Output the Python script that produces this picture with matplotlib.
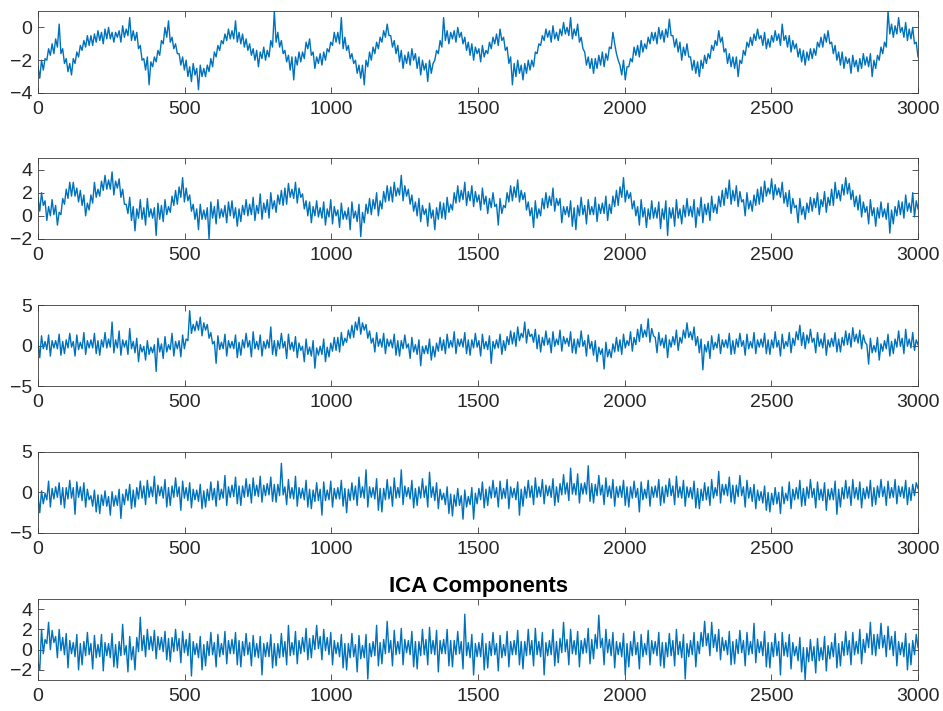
import numpy as np
import matplotlib
matplotlib.use("Agg")
import matplotlib.pyplot as plt

# Five independent components, 3000 samples each, kept here at every 6th sample.
n_samples = 3000
x_ticks = [0, 500, 1000, 1500, 2000, 2500, 3000]
title = "ICA Components"

s1 = [
    -2.4, -3.1, -2.0, -2.6, -1.9, -2.0, -1.3, -1.7, -1.0, -1.6,
    -0.7, -1.2, 0.2, -1.6, -1.3, -2.2, -1.9, -2.7, -2.2, -2.9,
    -1.9, -2.2, -1.5, -1.8, -1.1, -1.4, -0.8, -1.2, -0.5, -1.1,
    -0.5, -1.1, -0.4, -0.9, -0.2, -0.8, -0.3, -1.0, -0.1, -0.7,
    0.0, -0.7, -0.3, -0.9, -0.3, -0.6, -0.2, -0.9, 0.1, -0.6,
    -0.1, -0.5, 0.6, -0.8, -0.2, -0.8, -0.3, -1.3, -1.1, -2.0,
    -1.9, -2.6, -1.8, -3.5, -2.1, -2.4, -1.8, -2.1, -1.4, -1.7,
    -0.8, -1.0, 0.0, -0.6, 0.4, -0.9, -0.6, -1.3, -1.0, -1.6,
    -1.6, -2.3, -1.8, -2.6, -2.0, -3.0, -2.4, -3.3, -2.2, -2.9,
    -2.5, -3.8, -2.3, -3.0, -2.5, -3.0, -2.3, -2.7, -1.9, -2.4,
    -1.5, -1.8, -1.1, -1.4, -0.8, -1.0, -0.4, -0.8, -0.1, -0.7,
    -0.2, -0.7, 0.4, -0.9, -0.3, -1.0, -0.4, -1.2, -0.7, -1.4,
    -1.0, -1.7, -1.3, -2.0, -1.4, -2.4, -1.5, -1.9, -1.2, -2.0,
    -1.4, -1.8, -0.8, -1.2, 1.0, -0.9, -0.3, -1.2, -0.8, -1.6,
    -1.4, -2.1, -1.7, -2.6, -1.8, -3.2, -1.8, -2.3, -1.5, -2.1,
    -1.5, -1.9, -0.9, -1.3, -0.7, -1.7, -1.5, -2.5, -1.8, -2.2,
    -1.6, -2.3, -1.5, -2.0, -1.3, -1.5, -0.9, -1.1, -0.3, -0.9,
    -0.3, -1.0, 0.6, -1.3, -0.6, -1.4, -1.1, -1.9, -1.6, -2.2,
    -2.0, -2.8, -2.3, -3.1, -2.3, -3.5, -2.0, -2.4, -1.5, -2.0,
    -1.2, -1.6, -0.9, -1.3, -0.6, -0.9, -0.2, -0.6, 0.2, -0.5,
    -0.5, -1.2, -0.8, -1.6, -1.1, -2.1, -1.4, -2.5, -1.7, -2.2,
    -1.5, -2.3, -1.3, -2.0, -1.6, -2.5, -1.8, -2.9, -2.0, -2.6,
    -2.2, -3.3, -2.0, -2.8, -2.2, -2.0, -1.4, -1.6, -0.8, -1.2,
    0.6, -0.8, -0.2, -1.0, -0.3, -0.7, -0.2, -0.9, 0.0, -0.6,
    -0.3, -1.0, -0.6, -1.4, -0.9, -1.7, -1.0, -2.0, -1.2, -1.6,
    -1.3, -2.1, -1.1, -1.8, -1.4, -1.6, -0.9, -1.3, -0.6, -1.0,
    -0.4, -1.1, -0.1, -0.8, -0.6, -1.4, -1.2, -2.2, -1.8, -3.5,
    -2.2, -3.0, -2.0, -2.8, -2.3, -3.2, -2.2, -2.8, -2.0, -2.6,
    -2.0, -2.4, -1.5, -1.6, -1.0, -1.1, -0.5, -0.8, -0.1, -0.6,
    -0.2, -0.9, 0.1, -0.7, -0.3, -0.8, -0.1, -0.5, 0.3, -0.4,
    0.0, -0.5, 0.6, -0.7, -0.1, -0.5, 0.2, -0.9, -0.6, -1.3,
    -1.5, -2.3, -1.8, -2.5, -1.9, -2.8, -1.9, -2.5, -1.7, -2.3,
    -1.5, -2.4, -1.6, -2.0, -1.2, -1.3, -0.3, -1.0, -1.6, -2.0,
    -2.3, -2.9, -2.0, -3.2, -2.4, -2.4, -1.9, -2.1, -1.2, -1.7,
    -1.1, -1.8, -0.8, -1.5, -1.0, -1.3, -0.6, -1.0, -0.3, -0.8,
    -0.3, -1.0, 0.0, -0.7, -0.2, -0.9, -0.1, -0.6, 0.5, -0.5,
    -0.5, -1.2, -0.7, -1.5, -0.9, -2.0, -1.2, -1.7, -1.0, -1.8,
    -1.8, -2.6, -2.0, -2.8, -2.1, -3.0, -2.0, -2.5, -1.7, -2.2,
    -1.6, -1.9, -1.1, -1.4, -0.8, -1.1, -0.2, -0.9, -0.6, -1.5,
    -1.3, -2.2, -1.6, -2.4, -1.8, -2.5, -1.8, -3.0, -2.0, -2.2,
    -1.4, -1.7, -0.9, -1.2, -0.6, -1.1, -0.4, -0.8, -0.1, -0.7,
    -0.5, -1.1, -0.3, -1.3, -0.7, -1.2, -0.5, -0.9, -0.2, -0.8,
    -0.4, -1.1, 0.2, -0.8, -0.5, -1.2, -0.5, -1.5, -0.8, -1.3,
    -1.0, -1.8, -1.3, -2.1, -1.4, -2.3, -1.5, -2.0, -1.3, -1.9,
    -1.3, -1.7, -0.9, -1.2, -0.6, -1.2, -0.4, -0.9, -0.2, -1.0,
    -0.9, -1.6, -1.1, -2.0, -1.5, -2.3, -1.5, -2.5, -1.8, -2.2,
    -1.9, -2.8, -1.7, -2.4, -2.0, -2.7, -1.9, -2.5, -1.6, -2.3,
    -1.8, -2.4, -1.6, -3.0, -2.0, -2.5, -1.7, -2.0, -1.2, -1.6,
    -0.9, -1.2, 1.0, -0.4, 0.2, -0.6, 0.1, -0.4, 0.6, -0.3,
    0.0, -0.6, 0.3, -0.8, -0.1, -0.7, 0.0, -1.0, -0.9, -1.8,
]

s2 = [
    1.6, 0.4, 2.0, 0.9, 1.3, -0.4, 0.8, 0.0, 1.4, 0.1,
    0.9, -0.8, 0.3, 0.1, 1.5, 1.0, 2.3, 1.5, 2.9, 1.7,
    2.9, 1.7, 2.4, 1.2, 2.2, 0.9, 1.8, 0.0, 1.1, 0.5,
    1.8, 1.1, 2.9, 1.6, 2.3, 1.7, 3.0, 2.2, 3.5, 2.3,
    3.1, 2.3, 3.8, 1.8, 3.0, 2.4, 3.2, 1.6, 2.3, 1.0,
    1.0, 0.2, 1.6, -0.4, 0.8, -1.3, 0.6, -0.2, 1.4, -0.3,
    0.7, -0.8, 1.5, -0.1, 0.6, -0.2, 0.7, -1.7, 1.1, -0.3,
    0.9, -0.5, 1.4, 0.1, 0.8, 0.3, 1.7, 0.9, 2.2, 1.0,
    2.5, 1.6, 3.3, 1.2, 2.4, 1.3, 1.8, 0.4, 1.0, -0.3,
    0.6, -1.2, 1.0, -0.3, 0.5, -0.3, 0.7, -2.0, 1.2, -0.2,
    0.8, -0.7, 1.4, -0.2, 0.6, -0.1, 0.9, -0.6, 1.2, 0.0,
    1.3, -0.2, 0.7, -0.9, 0.6, -0.5, 0.9, 0.1, 1.4, 0.0,
    1.0, 0.1, 1.6, -0.4, 0.9, 0.2, 1.9, -0.3, 1.1, 0.3,
    1.4, -0.2, 2.0, 0.6, 1.3, 0.3, 1.8, 1.0, 2.2, 0.9,
    2.4, 1.0, 2.8, 1.6, 2.3, 1.5, 2.9, 1.1, 2.4, 1.6,
    1.9, 0.6, 1.3, 0.0, 1.2, -0.6, 0.8, 0.0, 1.3, -0.1,
    0.7, -0.2, 1.2, -0.8, 0.6, -0.1, 1.4, -0.7, 0.8, 0.0,
    0.5, -1.0, 1.1, -0.3, 0.4, -0.3, 0.7, -1.2, 1.2, -0.2,
    0.4, -0.5, 1.0, -1.8, 0.3, -0.6, 1.0, 0.2, 1.5, 0.1,
    1.4, 0.6, 2.0, 0.0, 1.3, 0.6, 2.1, 1.2, 2.6, 1.3,
    2.5, 1.2, 2.9, 1.7, 2.4, 1.8, 3.5, 1.3, 2.6, 1.7,
    2.3, 1.0, 1.8, 0.4, 1.2, 0.0, 1.5, -0.5, 0.9, 0.1,
    0.6, -0.9, 1.1, -0.2, 0.5, -1.2, 0.7, -0.3, 1.2, -0.2,
    1.1, -0.3, 1.6, 0.3, 1.0, 0.5, 2.0, 1.1, 2.6, 1.2,
    2.2, 1.4, 2.9, 0.9, 2.1, 1.3, 2.6, 0.8, 2.1, 1.2,
    1.8, 0.5, 2.4, 1.0, 1.7, 0.2, 1.5, 0.7, 2.0, 0.8,
    1.0, -0.8, 1.5, 0.2, 0.9, 0.7, 2.0, 1.2, 2.6, 1.3,
    2.5, 1.6, 3.1, 1.2, 2.2, 1.4, 2.0, 0.5, 1.2, 0.0,
    0.7, -1.0, 1.3, -0.2, 0.6, 0.0, 1.5, 0.6, 2.0, 0.7,
    1.7, 0.9, 2.4, 0.4, 1.5, 0.9, 1.5, -0.6, 0.8, 0.1,
    0.8, -0.1, 1.3, -0.9, 0.7, -1.2, 0.9, 0.0, 1.6, 0.1,
    0.9, -0.7, 1.4, 0.1, 0.8, 0.1, 1.6, -0.5, 1.0, 0.2,
    1.1, 0.2, 1.7, -0.4, 1.0, 0.2, 1.7, 0.8, 2.2, 0.9,
    2.5, 1.6, 3.3, 1.2, 2.2, 1.5, 2.0, 0.6, 1.3, 0.0,
    0.8, -0.8, 1.4, -0.1, 0.7, -1.0, 0.6, -0.3, 1.3, -0.2,
    0.7, -0.2, 1.2, -1.1, 0.6, -0.3, 1.3, -1.7, 0.7, -0.2,
    0.7, -0.9, 1.4, -0.2, 0.6, -0.7, 0.9, -0.1, 1.5, 0.0,
    0.8, -0.1, 1.4, -1.0, 0.7, 0.0, 1.6, -0.6, 1.0, 0.1,
    1.1, -0.4, 1.7, 0.3, 1.0, 0.2, 1.7, 0.8, 2.2, 0.9,
    2.4, 1.5, 3.1, 1.0, 2.2, 1.3, 2.6, 0.8, 2.1, 1.2,
    1.4, 0.0, 2.0, 0.6, 1.3, 0.4, 1.8, 0.9, 2.3, 1.0,
    2.5, 1.2, 3.0, 1.7, 2.4, 1.9, 3.2, 1.4, 2.7, 1.8,
    2.4, 1.6, 2.9, 1.1, 2.0, 0.8, 2.2, 0.2, 1.5, 0.7,
    0.9, -0.6, 1.5, 0.1, 0.8, -0.3, 1.1, 0.3, 1.6, 0.4,
    1.5, 0.7, 2.0, 0.1, 1.4, 0.8, 2.1, 0.3, 1.6, 0.9,
    2.3, 0.9, 2.9, 1.5, 2.2, 1.3, 2.7, 1.8, 3.3, 1.9,
    2.8, 1.4, 2.2, 0.8, 1.7, 0.5, 1.8, -0.1, 1.2, 0.3,
    0.8, -0.7, 1.4, 0.0, 0.7, -0.9, 0.7, -0.2, 1.2, -0.1,
    0.6, -0.3, 1.1, -1.5, 0.5, -0.7, 0.8, 0.0, 1.3, 0.1,
    1.2, -0.2, 1.8, 0.4, 1.1, 0.3, 2.0, -0.1, 1.3, 0.6,
]

s3 = [
    0.4, -1.5, 1.2, -0.4, 0.5, -0.5, 1.3, -1.3, 0.6, -0.3,
    0.6, -0.4, 1.4, -1.2, 0.5, -1.0, 0.7, -0.3, 1.5, -0.2,
    0.5, -1.3, 1.3, -0.5, 0.4, -0.4, 1.6, -1.1, 0.6, -0.3,
    0.7, -0.3, 1.5, -1.0, 0.6, -1.2, 0.7, -0.2, 1.6, -0.3,
    0.8, -0.2, 2.9, -0.9, 0.7, -0.3, 1.8, -1.2, 0.7, -0.2,
    0.6, -1.1, 2.1, -0.4, 0.5, -0.9, 0.9, -2.0, 0.1, -0.8,
    -0.1, -1.8, 0.6, -1.1, -0.2, -0.9, 0.1, -3.2, 0.9, -0.8,
    0.2, -1.6, 1.1, -0.8, 0.1, -0.5, 1.5, -1.3, 0.5, -0.4,
    0.6, -1.4, 1.3, -0.4, 0.8, 0.6, 4.3, 1.5, 2.6, 1.8,
    3.0, 1.9, 3.5, 1.2, 2.8, 1.9, 2.6, 0.9, 1.6, 0.2,
    0.5, -2.2, 1.2, -0.5, 0.4, -0.4, 1.4, -1.3, 0.6, -0.3,
    0.5, -0.4, 1.3, -1.5, 0.4, -1.2, 0.7, -0.3, 1.5, -0.2,
    0.6, -1.4, 1.7, -0.4, 0.5, -0.5, 1.3, -1.3, 0.5, -0.4,
    0.7, -0.3, 2.3, -1.1, 0.6, -1.3, 0.6, -0.4, 1.5, -0.3,
    0.5, -1.6, 1.4, -0.5, 0.4, -0.7, 1.1, -1.5, 0.3, -0.6,
    -0.1, -2.0, 0.8, -1.1, -0.2, -1.3, 0.6, -2.8, -0.3, -1.2,
    -0.1, -1.1, 0.8, -2.0, -0.2, -1.4, 0.3, -0.7, 1.0, -0.6,
    1.0, -0.8, 1.6, 0.0, 0.9, 0.4, 1.9, 0.9, 2.5, 1.0,
    2.9, 1.9, 3.5, 1.4, 2.8, 1.9, 2.6, 0.9, 1.8, 0.3,
    0.9, -0.8, 1.6, -0.1, 0.8, -0.2, 1.5, -1.0, 0.8, -0.1,
    0.7, -0.3, 1.4, -1.2, 0.6, -1.3, 0.6, -0.4, 1.3, -0.3,
    0.2, -1.6, 1.0, -0.8, 0.1, -1.1, 0.7, -2.5, -0.1, -1.0,
    0.0, -1.0, 0.8, -1.8, -0.1, -1.4, 0.3, -0.7, 1.0, -0.6,
    0.7, -1.0, 1.4, -0.3, 0.6, -0.2, 1.7, -1.0, 0.8, -0.1,
    0.8, -0.2, 1.6, -1.0, 0.7, -1.2, 0.7, -0.3, 1.5, -0.2,
    0.6, -1.3, 1.4, -0.4, 0.5, -0.5, 1.2, -2.2, 0.5, -0.4,
    0.7, -0.3, 1.4, -1.1, 0.6, -0.6, 1.1, 0.1, 1.8, 0.2,
    1.6, -0.1, 2.3, 0.6, 1.5, 1.0, 2.9, 0.3, 2.0, 1.1,
    1.4, 0.4, 2.0, -0.4, 1.3, -0.8, 1.0, 0.0, 1.8, 0.1,
    0.9, -0.9, 1.7, -0.1, 0.8, 0.1, 1.9, -0.7, 1.1, 0.2,
    0.9, -0.1, 1.7, -0.9, 0.8, -1.0, 0.8, -0.2, 1.8, -0.1,
    0.6, -1.3, 1.3, -0.4, 0.5, -1.2, 0.6, -2.0, -0.2, -1.1,
    -0.4, -2.9, 0.4, -1.4, -0.5, -1.5, 0.2, -0.8, 1.0, -0.7,
    0.7, -1.1, 1.4, -0.3, 0.6, 0.0, 1.7, -0.7, 1.0, 0.1,
    2.0, 0.5, 2.6, 1.0, 1.9, 1.1, 3.3, 0.4, 2.1, 1.2,
    1.0, -0.9, 1.6, 0.0, 0.9, -0.3, 1.3, -1.5, 0.7, -0.2,
    1.1, 0.1, 1.9, -0.6, 1.0, 0.3, 1.9, 0.9, 2.8, 1.0,
    1.7, 0.7, 2.3, 0.0, 1.1, -0.9, 0.8, -3.0, 0.1, -0.8,
    0.5, -1.6, 1.2, -0.5, 0.4, -0.3, 1.4, -1.0, 0.7, -0.2,
    0.7, -0.3, 1.5, -1.1, 0.6, -1.0, 0.8, -0.2, 1.5, -0.1,
    0.6, -1.2, 1.4, -0.4, 0.5, -0.3, 1.6, -1.0, 0.7, -0.2,
    0.8, -0.2, 1.5, -1.0, 0.7, -1.1, 0.7, -0.3, 1.7, -0.2,
    0.6, -1.3, 1.4, -0.4, 0.5, -0.1, 1.6, -0.9, 0.9, 0.0,
    1.7, 0.7, 2.5, 0.0, 1.6, -0.4, 1.3, 0.3, 2.0, 0.4,
    0.9, -0.9, 1.6, -0.1, 0.8, -0.3, 1.5, -1.2, 0.7, -0.2,
    0.9, -0.1, 1.6, -0.8, 0.8, -0.8, 1.0, 0.0, 1.8, 0.1,
    1.5, -0.2, 2.2, 0.5, 1.4, 0.3, 1.9, -0.4, 1.3, 0.4,
    0.1, -2.3, 0.9, -0.9, 0.0, -0.8, 1.0, -1.8, 0.2, -0.7,
    0.6, -0.4, 1.4, -1.3, 0.5, -1.0, 0.8, -0.2, 1.8, -0.1,
    0.9, -1.0, 2.0, -0.1, 0.8, -0.3, 1.6, -0.6, 0.7, 0.1,
]

s4 = [
    -0.3, -2.5, 0.2, -1.4, -0.1, -0.9, 1.4, -1.8, 0.5, -0.8,
    0.7, -0.6, 1.2, -1.5, 0.6, -1.9, 0.6, -0.8, 1.5, -0.7,
    0.6, -2.7, 1.3, -0.6, 0.7, -1.0, 1.2, -1.8, 0.4, -0.9,
    -0.4, -1.7, 0.3, -2.4, -0.3, -2.6, -0.3, -1.6, 0.2, -1.7,
    -0.5, -2.8, 0.1, -1.7, -0.4, -1.6, 0.4, -3.2, -0.2, -1.5,
    0.4, -1.0, 1.0, -2.0, 0.3, -1.8, 0.6, -0.8, 1.4, -0.7,
    0.8, -1.5, 1.5, -0.6, 0.7, -0.5, 2.0, -1.4, 0.9, -0.4,
    0.7, -0.7, 1.6, -1.8, 0.6, -1.6, 0.8, -0.6, 1.8, -0.5,
    0.7, -2.2, 1.4, -0.7, 0.6, -1.0, 1.2, -1.9, 0.4, -0.9,
    0.3, -1.1, 1.0, -2.0, 0.2, -1.8, 0.4, -1.0, 1.3, -0.9,
    0.5, -1.7, 1.4, -0.9, 0.4, -0.7, 2.1, -1.6, 0.7, -0.6,
    0.9, -0.5, 1.9, -1.4, 0.8, -1.6, 0.8, -0.6, 1.7, -0.5,
    1.0, -1.3, 1.8, -0.4, 0.9, -0.5, 2.0, -1.2, 0.9, -0.4,
    1.1, -0.3, 1.9, -1.1, 1.0, -1.2, 1.0, -0.4, 3.6, -0.3,
    0.7, -1.5, 1.6, -0.7, 0.6, -0.8, 2.0, -1.7, 0.6, -0.7,
    0.5, -0.9, 1.5, -1.8, 0.4, -2.0, 0.3, -1.1, 1.2, -1.0,
    0.4, -2.8, 1.3, -1.0, 0.3, -0.9, 1.4, -1.8, 0.5, -0.8,
    0.6, -0.8, 1.5, -1.7, 0.5, -2.5, 0.4, -1.0, 1.2, -0.9,
    0.8, -1.6, 1.9, -0.6, 0.7, -0.7, 2.8, -1.8, 0.7, -0.6,
    0.6, -0.8, 1.7, -2.2, 0.5, -2.4, 0.5, -0.9, 1.6, -0.8,
    0.7, -1.7, 1.8, -0.7, 0.6, -0.6, 2.8, -1.5, 0.8, -0.5,
    0.6, -0.8, 1.5, -1.9, 0.5, -1.6, 0.7, -0.7, 1.7, -0.6,
    0.8, -1.8, 2.5, -0.6, 0.7, -1.0, 1.2, -2.0, 0.4, -0.9,
    -0.1, -1.5, 0.7, -2.6, -0.2, -2.9, -0.3, -1.7, 0.5, -1.6,
    -0.4, -3.3, 0.3, -1.8, -0.5, -1.5, 0.6, -3.3, -0.1, -1.4,
    0.5, -0.9, 1.3, -1.9, 0.4, -1.6, 0.7, -0.7, 1.5, -0.6,
    0.6, -1.8, 1.4, -0.8, 0.5, -0.7, 1.6, -2.0, 0.7, -0.6,
    0.5, -0.9, 1.3, -2.8, 0.4, -1.7, 0.7, -0.7, 1.5, -0.6,
    0.8, -1.5, 1.8, -0.6, 0.7, -0.5, 1.6, -1.4, 0.9, -0.4,
    0.8, -0.6, 1.7, -1.6, 0.7, -1.2, 1.1, -0.3, 2.2, -0.2,
    1.2, -1.0, 3.0, -0.2, 1.1, -0.3, 2.3, -1.3, 1.1, -0.2,
    1.2, -0.2, 3.3, -1.1, 1.1, -1.3, 1.0, -0.4, 2.1, -0.3,
    0.9, -1.5, 1.8, -0.5, 0.8, -0.7, 1.6, -1.7, 0.7, -0.6,
    0.8, -0.6, 1.5, -1.6, 0.7, -1.8, 0.7, -0.7, 1.4, -0.6,
    0.5, -2.4, 1.3, -0.9, 0.4, -0.7, 1.5, -1.7, 0.7, -0.6,
    0.8, -0.6, 1.6, -1.6, 0.7, -1.3, 0.9, -0.5, 1.7, -0.4,
    0.8, -1.5, 2.0, -0.6, 0.7, -0.7, 1.5, -1.7, 0.7, -0.6,
    0.6, -0.8, 1.4, -1.9, 0.5, -2.0, 0.4, -1.0, 1.2, -0.9,
    0.7, -1.6, 1.6, -0.7, 0.6, -0.4, 2.6, -1.3, 1.0, -0.3,
    1.0, -0.4, 1.9, -1.2, 0.9, -1.4, 0.9, -0.5, 2.1, -0.4,
    0.7, -1.8, 1.5, -0.7, 0.6, -1.1, 1.0, -2.0, 0.3, -1.0,
    0.1, -1.3, 0.8, -2.2, 0.0, -2.4, -0.1, -1.5, 0.6, -1.4,
    0.0, -2.6, 0.7, -1.4, -0.1, -1.0, 1.3, -2.0, 0.4, -0.9,
    0.6, -0.8, 1.5, -1.7, 0.5, -1.6, 0.7, -0.7, 1.6, -0.6,
    0.5, -1.9, 1.3, -0.9, 0.4, -1.0, 1.2, -2.2, 0.4, -0.9,
    0.5, -0.9, 1.4, -2.7, 0.4, -1.8, 0.6, -0.8, 1.5, -0.7,
    0.7, -1.6, 1.6, -0.7, 0.6, -0.9, 1.3, -1.9, 0.5, -0.8,
    0.7, -0.7, 1.5, -1.7, 0.6, -1.5, 0.8, -0.6, 1.6, -0.5,
    0.7, -1.6, 1.4, -0.7, 0.6, -0.6, 1.6, -1.4, 0.8, -0.5,
    0.7, -0.7, 1.5, -1.5, 0.6, -1.0, 1.0, -0.4, 1.2, 0.5,
]

s5 = [
    -1.3, -2.0, 2.0, -0.4, 1.0, 0.6, 2.7, 0.0, 1.9, 0.7,
    1.3, -0.8, 2.0, -0.1, 1.2, -0.5, 1.6, -1.8, 0.9, -0.4,
    0.7, -0.7, 1.5, -2.0, 0.6, -1.5, 0.8, -0.6, 1.7, -0.5,
    0.6, -1.9, 1.4, -0.8, 0.5, -0.7, 1.5, -2.1, 0.7, -0.6,
    0.6, -0.8, 1.6, -1.7, 0.5, -1.8, 0.8, -0.6, 2.5, -0.5,
    0.4, -2.2, 1.3, -1.0, 0.3, -2.0, 1.2, -0.2, 3.2, -0.1,
    1.4, -0.7, 2.0, 0.0, 1.3, -0.1, 1.9, -0.9, 1.3, 0.0,
    1.2, -0.2, 1.8, -1.0, 1.1, -1.2, 1.2, -0.2, 2.0, -0.1,
    1.1, -1.3, 1.8, -0.3, 1.0, -0.6, 1.6, -2.6, 0.8, -0.5,
    0.6, -0.8, 1.3, -2.0, 0.5, -1.6, 0.8, -0.6, 1.7, -0.5,
    0.7, -1.7, 1.5, -0.7, 0.6, -0.5, 1.8, -1.4, 0.9, -0.4,
    1.0, -0.4, 1.7, -1.5, 0.9, -1.7, 0.8, -0.6, 1.6, -0.5,
    0.7, -1.6, 1.4, -0.7, 0.6, -0.8, 1.3, -2.5, 0.6, -0.7,
    0.7, -0.7, 1.5, -1.8, 0.6, -1.6, 0.6, -0.8, 1.6, -0.7,
    0.8, -1.5, 2.4, -0.6, 0.7, -0.5, 1.8, -1.4, 0.9, -0.4,
    1.2, -0.2, 2.1, -1.0, 1.1, -0.8, 1.4, 0.0, 2.4, 0.1,
    1.3, -1.0, 2.0, -0.1, 1.2, -0.5, 1.7, -1.5, 0.9, -0.4,
    0.7, -0.7, 1.5, -1.8, 0.6, -2.0, 0.6, -0.8, 1.6, -0.7,
    0.5, -2.2, 1.4, -0.9, 0.4, -0.8, 1.5, -2.9, 0.6, -0.7,
    0.8, -0.6, 2.4, -1.6, 0.7, -1.4, 1.0, -0.4, 2.8, -0.3,
    0.9, -1.6, 1.9, -0.5, 0.8, -0.4, 2.1, -1.5, 1.0, -0.3,
    0.9, -0.5, 1.8, -1.7, 0.8, -1.9, 0.8, -0.6, 2.0, -0.5,
    1.0, -1.5, 2.2, -0.4, 0.9, -0.5, 1.9, -2.2, 0.9, -0.4,
    1.0, -0.4, 2.0, -1.6, 0.9, -1.7, 0.9, -0.5, 1.8, -0.4,
    0.8, -1.9, 3.5, -0.6, 0.7, -0.8, 1.5, -2.5, 0.6, -0.7,
    0.7, -0.7, 1.6, -2.0, 0.6, -1.8, 0.8, -0.6, 1.7, -0.5,
    0.6, -2.1, 1.4, -0.8, 0.5, -0.6, 1.8, -1.7, 0.8, -0.5,
    0.9, -0.5, 1.9, -1.5, 0.8, -1.9, 0.8, -0.6, 2.0, -0.5,
    0.9, -1.6, 2.1, -0.5, 0.8, -0.7, 1.7, -2.5, 0.7, -0.6,
    0.9, -0.5, 2.0, -1.6, 0.8, -1.3, 1.1, -0.3, 2.7, -0.2,
    1.0, -1.5, 2.0, -0.4, 0.9, -0.5, 1.8, -1.7, 0.9, -0.4,
    1.1, -0.3, 2.1, -1.4, 1.0, -0.9, 1.5, 0.1, 3.4, 0.2,
    1.1, -1.5, 2.0, -0.3, 1.0, -0.6, 1.7, -1.8, 0.8, -0.5,
    0.7, -0.7, 1.6, -2.5, 0.6, -1.7, 0.8, -0.6, 1.8, -0.5,
    0.7, -1.9, 1.5, -0.7, 0.6, -0.5, 1.9, -1.5, 0.9, -0.4,
    0.8, -0.6, 1.7, -1.6, 0.7, -1.8, 0.7, -0.7, 1.6, -0.6,
    0.9, -1.6, 2.0, -0.5, 0.8, -0.8, 1.5, -2.9, 0.6, -0.7,
    0.9, -0.5, 1.7, -1.7, 0.8, -0.4, 1.7, 0.3, 2.8, 0.4,
    1.6, -0.6, 2.7, 0.2, 1.5, -0.2, 2.0, -1.0, 1.2, -0.1,
    0.9, -0.5, 1.8, -1.5, 0.8, -1.4, 1.0, -0.4, 1.9, -0.3,
    0.9, -1.6, 1.7, -0.5, 0.8, -0.4, 2.6, -1.3, 1.0, -0.3,
    0.8, -0.6, 1.8, -1.7, 0.7, -1.8, 0.7, -0.7, 1.6, -0.6,
    0.8, -2.5, 1.7, -0.6, 0.7, -0.7, 1.5, -1.9, 0.7, -0.6,
    0.3, -1.1, 1.2, -2.2, 0.2, -3.0, 0.2, -1.2, 1.0, -1.1,
    0.3, -2.3, 1.1, -1.1, 0.2, -1.0, 1.3, -2.1, 0.4, -0.9,
    0.7, -0.7, 1.6, -1.8, 0.6, -1.6, 0.8, -0.6, 1.8, -0.5,
    0.9, -1.5, 1.7, -0.5, 0.8, -0.4, 2.0, -1.4, 1.0, -0.3,
    1.6, 0.2, 2.7, -0.5, 1.5, -0.6, 1.5, 0.1, 2.6, 0.2,
    1.4, -0.7, 2.3, 0.0, 1.3, -0.6, 1.8, -1.6, 0.8, -0.5,
    0.7, -0.7, 1.6, -2.0, 0.6, -1.5, 0.9, -0.5, 1.5, 0.2,
]

components = [s1, s2, s3, s4, s5]
y_limits = [(-4, 1), (-2, 5), (-5, 5), (-5, 5), (-3, 5)]
y_ticks = [[-4, -2, 0], [-2, 0, 2, 4], [-5, 0, 5], [-5, 0, 5], [-2, 0, 2, 4]]

plt.rcParams["font.family"] = ["Liberation Sans", "DejaVu Sans"]
line_color = "#0072BD"
text_color = "#262626"
frame_color = "#3a3a3a"

fig = plt.figure(figsize=(9.43, 7.11), dpi=100)
left, width = 0.0403, 0.9332
bottoms = [0.8692, 0.6639, 0.4571, 0.2504, 0.0436]
heights = [0.1153, 0.1139, 0.1139, 0.1139, 0.1139]

for i, (sig, ylim, yt) in enumerate(zip(components, y_limits, y_ticks)):
    ax = fig.add_axes([left, bottoms[i], width, heights[i]])
    x = np.linspace(0, n_samples, len(sig))
    ax.plot(x, sig, color=line_color, linewidth=1.0)
    ax.set_xlim(0, n_samples)
    ax.set_ylim(*ylim)
    ax.set_xticks(x_ticks)
    ax.set_yticks(yt)
    ax.tick_params(direction="in", top=True, right=True, length=4,
                   width=0.6, colors=frame_color, labelcolor=text_color,
                   labelsize=14)
    ax.tick_params(axis="x", pad=6)
    ax.tick_params(axis="y", pad=4)
    for sp in ax.spines.values():
        sp.set_color(frame_color)
        sp.set_linewidth(0.6)
    if i == 4:
        ax.set_title(title, fontsize=16, fontweight="bold",
                     color="black", pad=5)

fig.savefig("out.png", dpi=100)
